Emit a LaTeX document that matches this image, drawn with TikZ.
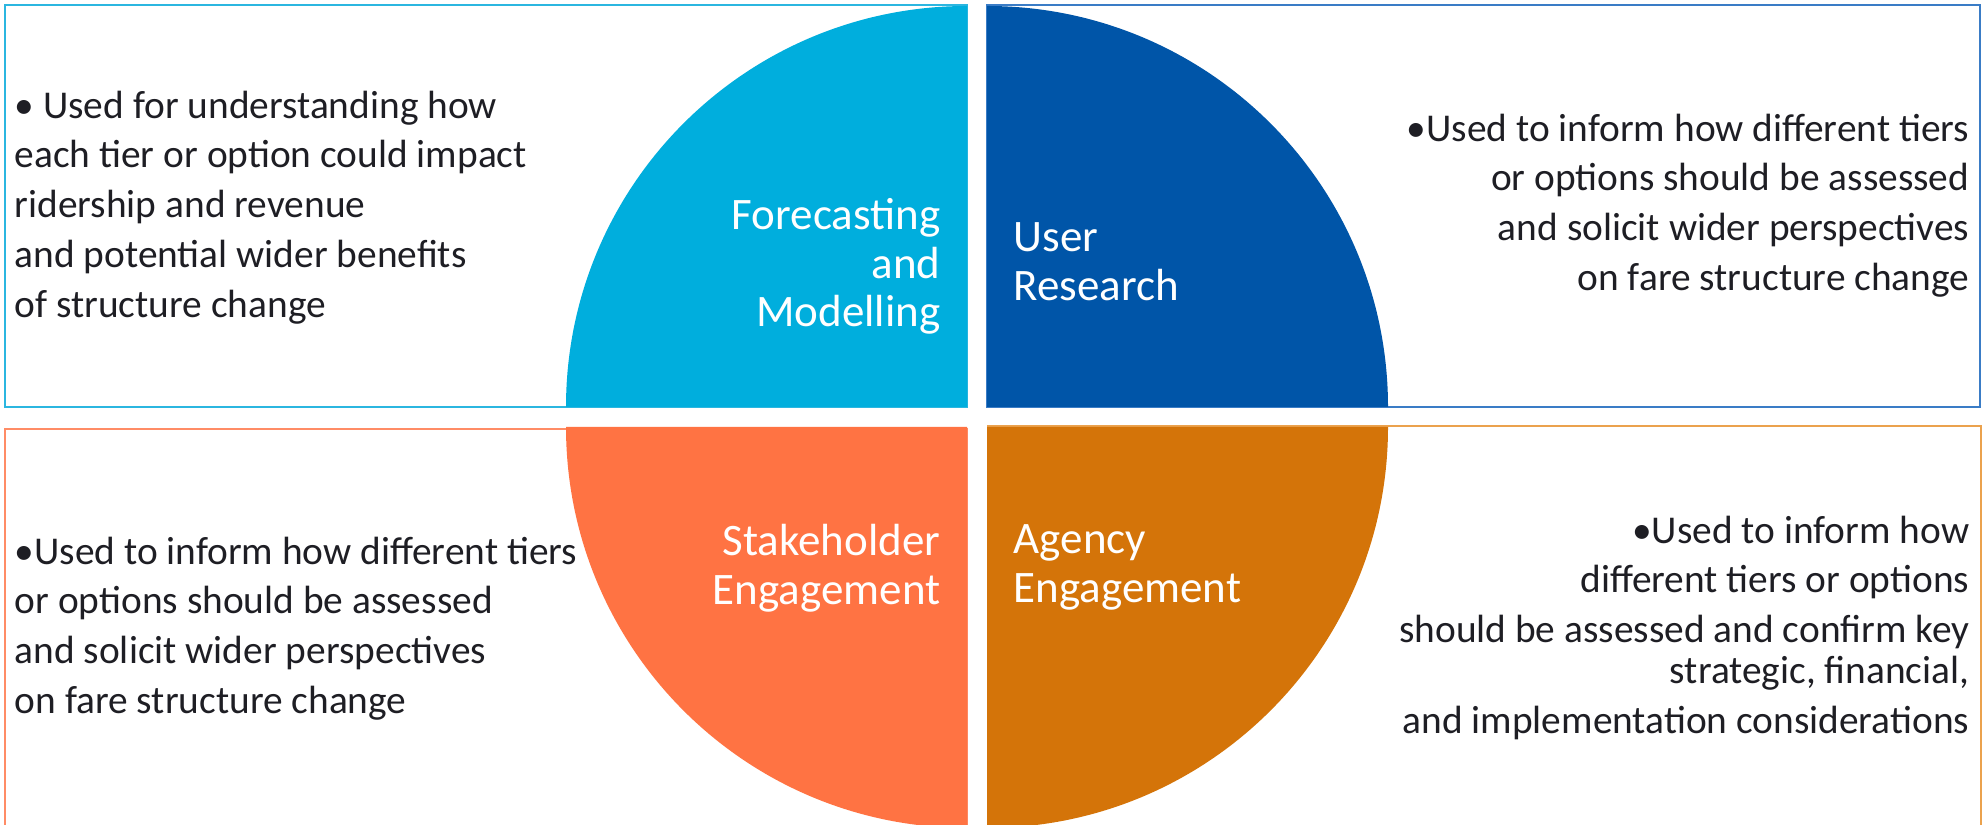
\documentclass[tikz,border=0pt]{standalone}
\usepackage{fontspec}
\setmainfont{Carlito}
\definecolor{fmblue}{HTML}{00AEDD}
\definecolor{urblue}{HTML}{0055A8}
\definecolor{seorange}{HTML}{FF7343}
\definecolor{aeorange}{HTML}{D47409}
\definecolor{fmline}{HTML}{2BB6E0}
\definecolor{urline}{HTML}{3A7CC6}
\definecolor{seline}{HTML}{FF8C66}
\definecolor{aeline}{HTML}{EBA24E}
\definecolor{bodytext}{HTML}{1E1E24}
\begin{document}
\begin{tikzpicture}[x=0.01cm,y=0.01cm,
    infobox/.style={line width=0.6pt},
    quadlabel/.style={text=white,inner sep=0pt,font=\fontsize{12.8}{13.8}\selectfont},
    infotext/.style={text=bodytext,inner sep=0pt,font=\fontsize{11.2}{14.2}\selectfont}]
    \useasboundingbox (0,0) rectangle (1988,825);

    % Boxes behind the quarters
    \draw[infobox, fmline] (5,418) rectangle (967,820);
    \draw[infobox, urline] (987,418) rectangle (1980,820);
    \draw[infobox, seline] (967,-10) -- (967,396) -- (5,396) -- (5,-10);
    \draw[infobox, aeline] (987,399) -- (1981,399) -- (1981,-10);

    % Quarters of the circle
    \fill[fmblue] (967,418) -- (566,418) arc[start angle=180, end angle=90, radius=401] -- cycle;
    \fill[urblue] (987,418) -- (987,819) arc[start angle=90, end angle=0, radius=401] -- cycle;
    \fill[seorange] (967,398) -- (566,398) arc[start angle=180, end angle=270, radius=401] -- cycle;
    \fill[aeorange] (987,398) -- (1388,398) arc[start angle=0, end angle=-90, radius=401] -- cycle;

    % Labels in the quarters
    \node[quadlabel, anchor=north east, align=right] (fm) at (941,627) {Forecasting\\and\\Modelling};
    \node[quadlabel, anchor=north west, align=left] (ur) at (1013,603) {User\\Research};
    \node[quadlabel, anchor=north east, align=right] (se) at (941,301) {Stakeholder\\Engagement};
    \node[quadlabel, anchor=north west, align=left] (ae) at (1013,301) {Agency\\Engagement};

    % Texts in the boxes
    \node[infotext, anchor=north west, align=left] (fmtext) at (14,735)
        {• Used for understanding how\\each tier or option could impact\\ridership and revenue\\and potential wider benefits\\of structure change};
    \node[infotext, anchor=north east, align=right] (urtext) at (1970,712)
        {•Used to inform how different tiers\\or options should be assessed\\and solicit wider perspectives\\on fare structure change};
    \node[infotext, anchor=north west, align=left] (setext) at (14,289)
        {•Used to inform how different tiers\\or options should be assessed\\and solicit wider perspectives\\on fare structure change};
    \node[infotext, anchor=north east, align=right] (aetext) at (1970,310)
        {•Used to inform how\\different tiers or options\\should be assessed and confirm key\\[-2.6pt]strategic, financial,\\and implementation considerations};
\end{tikzpicture}
\end{document}
